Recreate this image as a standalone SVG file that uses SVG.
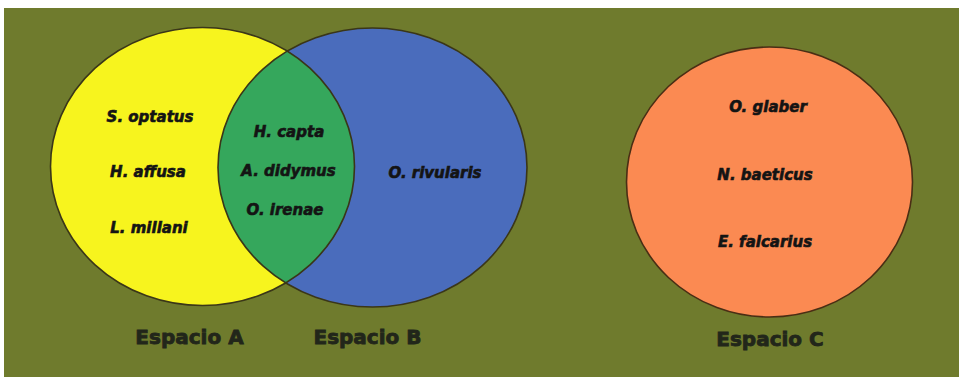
<svg xmlns="http://www.w3.org/2000/svg" width="959" height="379" viewBox="0 0 959 379">
  <style>
    .sp { font-family: "DejaVu Sans", "Liberation Sans", sans-serif; font-weight: bold; font-style: italic; font-size: 15px; fill: #141414; stroke: #141414; stroke-width: 0.6; text-anchor: middle; }
    .lbl { font-family: "DejaVu Sans", "Liberation Sans", sans-serif; font-weight: bold; font-size: 20px; fill: #22261a; stroke: #22261a; stroke-width: 0.8; text-anchor: middle; }
    .edge { fill: none; stroke: #3a3618; stroke-width: 1.6; }
  </style>
  <defs>
    <clipPath id="clipA">
      <ellipse cx="202.5" cy="166.5" rx="152" ry="139"/>
    </clipPath>
  </defs>
  <rect x="0" y="0" width="959" height="379" fill="#ffffff"/>
  <rect x="4" y="8" width="955" height="369" fill="#6f7b2d"/>

  <g id="espacio-a">
    <ellipse cx="202.5" cy="166.5" rx="152" ry="139" fill="#f7f41e"/>
  </g>
  <g id="espacio-b">
    <ellipse cx="372.5" cy="167.5" rx="154.5" ry="139.5" fill="#4a6cbc"/>
  </g>
  <g id="interseccion-ab">
    <ellipse cx="372.5" cy="167.5" rx="154.5" ry="139.5" fill="#35a75c" clip-path="url(#clipA)"/>
  </g>
  <g id="outlines-ab">
    <ellipse class="edge" cx="202.5" cy="166.5" rx="152" ry="139"/>
    <ellipse class="edge" cx="372.5" cy="167.5" rx="154.5" ry="139.5"/>
  </g>
  <g id="espacio-a-text">
    <text class="sp" x="150" y="122">S. optatus</text>
    <text class="sp" x="148" y="177">H. affusa</text>
    <text class="sp" x="149" y="233">L. millani</text>
    <text class="lbl" x="189.5" y="344">Espacio A</text>
  </g>
  <g id="interseccion-text">
    <text class="sp" x="289" y="137">H. capta</text>
    <text class="sp" x="288.5" y="176">A. didymus</text>
    <text class="sp" x="285" y="215">O. irenae</text>
  </g>
  <g id="espacio-b-text">
    <text class="sp" x="435" y="178">O. rivularis</text>
    <text class="lbl" x="367.5" y="344">Espacio B</text>
  </g>
  <g id="espacio-c">
    <ellipse cx="769.5" cy="182" rx="143" ry="135" fill="#fb8a52" stroke="#4a2e14" stroke-width="1.6"/>
    <text class="sp" x="768" y="112">O. glaber</text>
    <text class="sp" x="765" y="180">N. baeticus</text>
    <text class="sp" x="765" y="247">E. falcarius</text>
    <text class="lbl" x="770" y="346">Espacio C</text>
  </g>
</svg>
